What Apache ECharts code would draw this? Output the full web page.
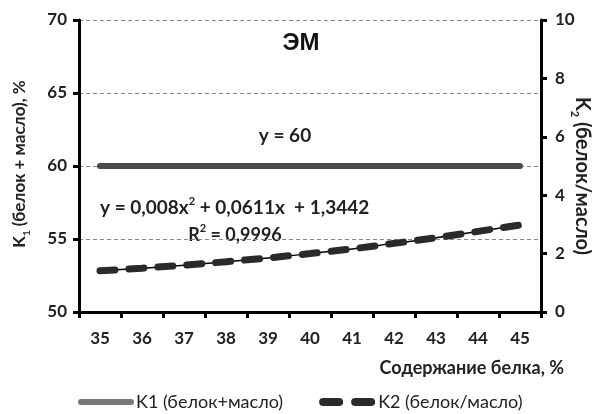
<!DOCTYPE html>
<html><head><meta charset="utf-8">
<script src="https://cdn.jsdelivr.net/npm/echarts@6/dist/echarts.min.js"></script>
<style>html,body{margin:0;padding:0;background:#fff}#c{width:592px;height:414px}</style>
</head><body><div id="c"></div>
<script>
const categories = ['35','36','37','38','39','40','41','42','43','44','45'];
const k1Values = [60,60,60,60,60,60,60,60,60,60,60];
const k2Values = [1.41,1.50,1.60,1.72,1.85,2.00,2.16,2.35,2.54,2.76,2.98];
const leftTicks = [50,55,60,65,70];
const rightTicks = [0,2,4,6,8,10];
const FONT = 'Lato, "Open Sans", sans-serif';

const chart = echarts.init(document.getElementById('c'), null, {renderer:'canvas'});
const axisLine = {show:true, lineStyle:{color:'#000', width:3}};
const tickLabel = {fontFamily:FONT, fontWeight:'bold', fontSize:17, color:'#222'};
chart.setOption({
  animation:false,
  backgroundColor:'#fff',
  grid:{left:79, right:51, top:20, bottom:102, containLabel:false},
  xAxis:{
    type:'category', data:categories, boundaryGap:true,
    axisLine:axisLine,
    axisTick:{show:true, length:6, lineStyle:{color:'#000', width:3}},
    axisLabel:Object.assign({margin:18}, tickLabel),
    splitLine:{show:false}
  },
  yAxis:[{
    type:'value', min:leftTicks[0], max:leftTicks[leftTicks.length-1], interval:5,
    axisLine:axisLine,
    axisTick:{show:true, length:6, lineStyle:{color:'#000', width:3}},
    axisLabel:Object.assign({margin:12}, tickLabel),
    splitLine:{show:true, lineStyle:{color:'#888', type:[4,3], width:1}}
  },{
    type:'value', min:rightTicks[0], max:rightTicks[rightTicks.length-1], interval:2,
    position:'right',
    axisLine:axisLine,
    axisTick:{show:true, length:6, lineStyle:{color:'#000', width:3}},
    axisLabel:Object.assign({margin:14}, tickLabel),
    splitLine:{show:false}
  }],
  legend:{
    top:391, left:73, itemWidth:50, itemHeight:10, itemGap:36, padding:[2,5,2,5],
    textStyle:{fontFamily:FONT, fontSize:18, color:'#222'},
    itemStyle:{opacity:0},
    data:[
      {name:'K1 (белок+масло)', lineStyle:{color:'#777', width:6, cap:'round'}, itemStyle:{opacity:0}},
      {name:'K2 (белок/масло)', lineStyle:{color:'#2a2a2a', width:8, type:[16,16], cap:'round'}, itemStyle:{opacity:0}}
    ]
  },
  series:[{
    name:'K1 (белок+масло)', type:'line', yAxisIndex:0, data:k1Values,
    symbol:'none', lineStyle:{color:'#4a4a4a', width:6, cap:'round'}, itemStyle:{color:'#4a4a4a'}, z:3
  },{
    name:'trend', type:'line', yAxisIndex:1, data:k2Values, smooth:true,
    symbol:'none', lineStyle:{color:'#000', width:1.5}, z:2, silent:true
  },{
    name:'K2 (белок/масло)', type:'line', yAxisIndex:1, data:k2Values,
    symbol:'none', lineStyle:{color:'#2a2a2a', width:7, type:[15,14], cap:'round'}, itemStyle:{color:'#2a2a2a'}, z:3
  }],
  graphic:[
    {type:'text', x:301, y:43, style:{text:'ЭМ', font:'bold 24px "Liberation Sans", Arial, sans-serif', fill:'#111', align:'center', verticalAlign:'middle'}},
    {type:'text', x:285, y:136, style:{text:'y = 60', font:'bold 19px '+FONT, fill:'#222', align:'center', verticalAlign:'middle'}},
    {type:'text', x:100, y:208, style:{
      text:'y = 0,008x{sup|2} + 0,0611x  + 1,3442', font:'bold 19px '+FONT, fill:'#222', verticalAlign:'middle',
      rich:{sup:{fontSize:11, fontFamily:FONT, fontWeight:'bold', verticalAlign:'top', lineHeight:24, fill:'#222'}}
    }},
    {type:'text', x:235, y:235, style:{
      text:'R{sup|2} = 0,9996', font:'bold 18px '+FONT, fill:'#222', align:'center', verticalAlign:'middle',
      rich:{sup:{fontSize:11, fontFamily:FONT, fontWeight:'bold', verticalAlign:'top', lineHeight:24, fill:'#222'}}
    }},
    {type:'text', x:564, y:368, style:{text:'Содержание белка, %', font:'bold 18px '+FONT, fill:'#222', align:'right', verticalAlign:'middle'}},
    {type:'text', x:20, y:164, rotation:Math.PI/2, style:{
      text:'K{sub|1} (белок + масло), %', font:'bold 17px '+FONT, fill:'#222', align:'center', verticalAlign:'middle',
      rich:{sub:{fontSize:10, fontFamily:FONT, fontWeight:'bold', verticalAlign:'bottom', lineHeight:24, fill:'#222'}}
    }},
    {type:'text', x:582, y:176, rotation:-Math.PI/2, style:{
      text:'K{sub|2} (белок/масло)', font:'bold 20px '+FONT, fill:'#222', align:'center', verticalAlign:'middle',
      rich:{sub:{fontSize:11, fontFamily:FONT, fontWeight:'bold', verticalAlign:'bottom', lineHeight:26, fill:'#222'}}
    }}
  ]
});
</script></body></html>
